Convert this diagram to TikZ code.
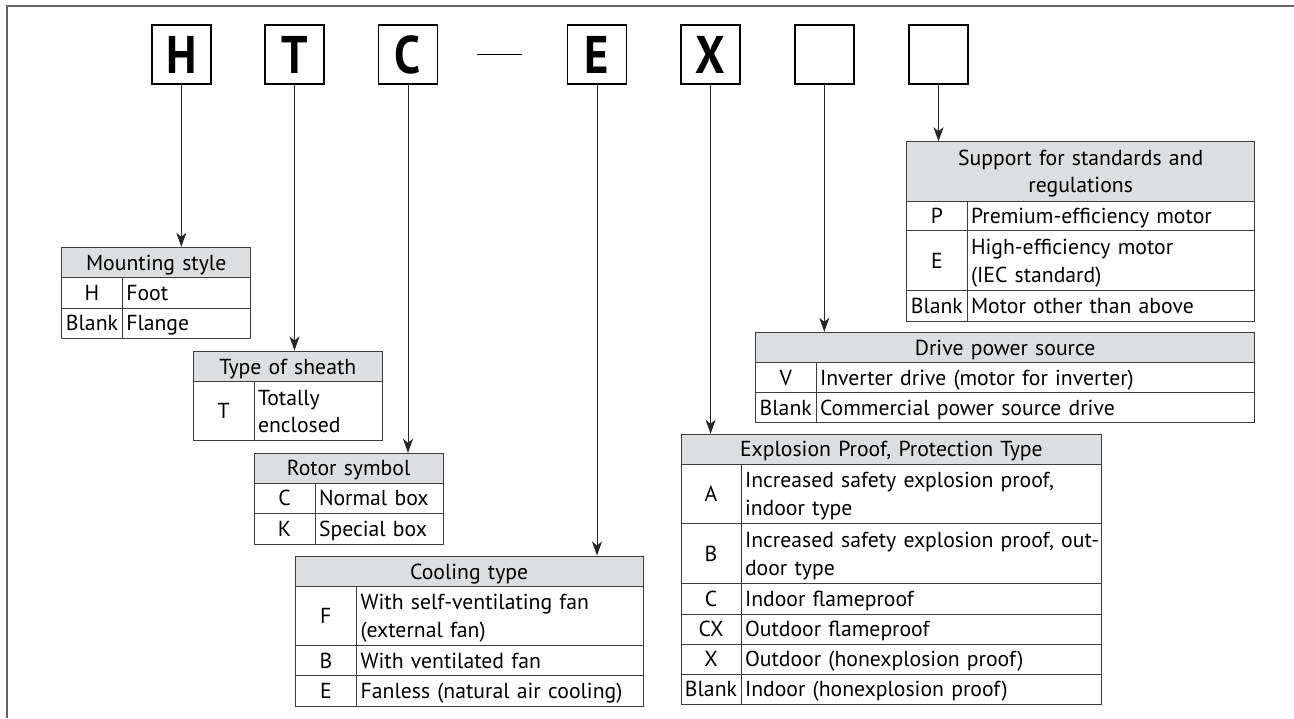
\documentclass[tikz,border=0pt]{standalone}
\usepackage{fontspec}
\setmainfont{PT Sans}
\usetikzlibrary{arrows.meta}
\definecolor{tline}{RGB}{60,60,60}
\definecolor{hfill}{RGB}{221,222,223}
\definecolor{framec}{RGB}{100,100,100}
\newcommand\tabfont{\fontsize{21.7}{27.7}\selectfont}
\newcommand\mystr{\rule[-6pt]{0pt}{27.3pt}}
\newcommand\bl[1]{\scalebox{0.88}[1]{#1}}
\tikzset{
  hcell/.style={draw=tline, line width=1pt, fill=hfill, inner sep=0pt, align=center, font=\tabfont},
  ccell/.style={draw=tline, line width=1pt, inner sep=0pt, align=center, font=\tabfont},
  dcell/.style={draw=tline, line width=1pt, inner xsep=4pt, inner ysep=0pt, align=left, font=\tabfont},
  codebox/.style={draw=black, line width=1.6pt, minimum width=59pt, minimum height=59pt, inner sep=0pt, font=\fontsize{53}{53}\bfseries},
  arr/.style={draw=black!85, line width=1pt, -{Stealth[length=14pt,width=10pt,inset=4pt]}},
}
\newcommand\thead[6]{%
  \pgfmathsetmacro\tkcw{#3-#2}\pgfmathsetmacro\tkch{#5-#4}%
  \pgfmathsetmacro\tkcx{(#2+#3)/2}\pgfmathsetmacro\tkcy{(#4+#5)/2}%
  \node[hcell, minimum width=\tkcw pt, minimum height=\tkch pt, text width=\tkcw pt] (#1) at (\tkcx,\tkcy) {\mystr#6\mystr};}
\newcommand\trow[8]{%
  \pgfmathsetmacro\tkwa{#3-#2}\pgfmathsetmacro\tkwb{#4-#3}\pgfmathsetmacro\tkwt{#4-#3-8}%
  \pgfmathsetmacro\tkh{#6-#5}\pgfmathsetmacro\tkxa{(#2+#3)/2}\pgfmathsetmacro\tkxb{(#3+#4)/2}\pgfmathsetmacro\tky{(#5+#6)/2}%
  \node[ccell, minimum width=\tkwa pt, minimum height=\tkh pt, text width=\tkwa pt] (#1c) at (\tkxa,\tky) {\mystr#7\mystr};
  \node[dcell, minimum width=\tkwb pt, minimum height=\tkh pt, text width=\tkwt pt] (#1d) at (\tkxb,\tky) {\mystr#8\mystr};}
\begin{document}
\begin{tikzpicture}[x=1pt,y=-1pt]
\useasboundingbox (0,0) rectangle (1294,718);
% frame
\draw[framec, line width=1.8pt] (7.3,718) -- (7.3,5.7) -- (1294,5.7);
% code boxes
\node[codebox] (bh) at (181.3,54.5) {\bl{H}};
\node[codebox] (bt) at (294.5,54.5) {\bl{T}};
\node[codebox] (bc) at (408,54.5) {\bl{C}};
\coordinate (dashA) at (477,54.3);
\coordinate (dashB) at (521.5,54.3);
\draw[line width=1.3pt] (dashA) -- (dashB);
\node[codebox] (be) at (597,54.5) {\bl{E}};
\node[codebox] (bx) at (710.6,54.5) {\bl{X}};
\node[codebox] (bv) at (824.3,54.5) {};
\node[codebox] (bp) at (938.5,54.5) {};
% Mounting style
\thead{mh}{61.7}{250.7}{247.3}{277.7}{Mounting style}
\trow{m1}{61.7}{122.3}{250.7}{277.7}{308.3}{H}{Foot}
\trow{m2}{61.7}{122.3}{250.7}{308.3}{338.3}{Blank}{Flange}
% Type of sheath
\thead{sh}{193.3}{382.3}{351}{381.7}{Type of sheath}
\trow{s1}{193.3}{254}{382.3}{381.7}{440.7}{T}{Totally\\enclosed}
% Rotor symbol
\thead{rh}{254}{443.3}{453.3}{483.3}{Rotor symbol}
\trow{r1}{254}{315}{443.3}{483.3}{513.3}{C}{Normal box}
\trow{r2}{254}{315}{443.3}{513.3}{544}{K}{Special box}
% Cooling type
\thead{ch}{295}{643.3}{556}{586.7}{Cooling type}
\trow{c1}{295}{356.7}{643.3}{586.7}{645}{F}{\mbox{With self-ventilating fan}\\\mbox{(external fan)}}
\trow{c2}{295}{356.7}{643.3}{645}{675.7}{B}{\mbox{With ventilated fan}}
\trow{c3}{295}{356.7}{643.3}{675.7}{706}{E}{\mbox{Fanless (natural air cooling)}}
% Explosion proof
\thead{eh}{681}{1101.7}{434.3}{464.3}{Explosion Proof, Protection Type}
\trow{e1}{681}{741}{1101.7}{464.3}{523.7}{A}{\mbox{Increased safety explosion proof,}\\\mbox{indoor type}}
\trow{e2}{681}{741}{1101.7}{523.7}{583.3}{B}{\mbox{Increased safety explosion proof, out-}\\\mbox{door type}}
\trow{e3}{681}{741}{1101.7}{583.3}{614}{C}{\mbox{Indoor flameproof}}
\trow{e4}{681}{741}{1101.7}{614}{644.3}{CX}{\mbox{Outdoor flameproof}}
\trow{e5}{681}{741}{1101.7}{644.3}{674.3}{X}{\mbox{Outdoor (honexplosion proof)}}
\trow{e6}{681}{741}{1101.7}{674.3}{704.3}{Blank}{\mbox{Indoor (honexplosion proof)}}
% Drive power source
\thead{dh}{755.5}{1254.8}{332.3}{362.7}{Drive power source}
\trow{d1}{755.5}{816}{1254.8}{362.7}{392.7}{V}{\mbox{Inverter drive (motor for inverter)}}
\trow{d2}{755.5}{816}{1254.8}{392.7}{422.7}{Blank}{\mbox{Commercial power source drive}}
% Support for standards
\thead{ph}{906.7}{1254.6}{141.7}{201}{Support for standards and\\regulations}
\trow{p1}{906.7}{967}{1254.6}{201}{230.7}{P}{\mbox{Premium-efficiency motor}}
\trow{p2}{906.7}{967}{1254.6}{230.7}{290.7}{E}{\mbox{High-efficiency motor}\\\mbox{(IEC standard)}}
\trow{p3}{906.7}{967}{1254.6}{290.7}{321}{Blank}{\mbox{Motor other than above}}
% connectors
\draw[arr] (bh.south) -- (bh.south |- mh.north);
\draw[arr] (bt.south) -- (bt.south |- sh.north);
\draw[arr] (bc.south) -- (bc.south |- rh.north);
\draw[arr] (be.south) -- (be.south |- ch.north);
\draw[arr] (bx.south) -- (bx.south |- eh.north);
\draw[arr] (bv.south) -- (bv.south |- dh.north);
\draw[arr] (bp.south) -- (bp.south |- ph.north);
\end{tikzpicture}
\end{document}
